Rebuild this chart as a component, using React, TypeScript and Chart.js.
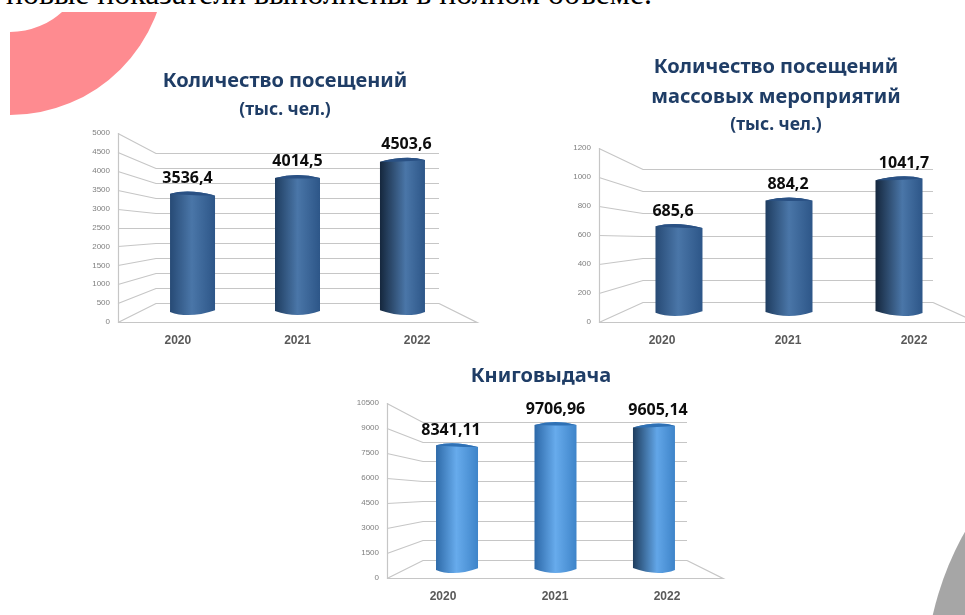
import React, { useEffect, useRef } from "react";
import { Chart, registerables, BarController, BarElement } from "chart.js";

Chart.register(...registerables);

// ---------- data ----------
const years = ["2020", "2021", "2022"];
const visits = [3536.4, 4014.5, 4503.6];
const massVisits = [685.6, 884.2, 1041.7];
const bookIssue = [8341.11, 9706.96, 9605.14];
const visitsLabels = ["3536,4", "4014,5", "4503,6"];
const massLabels = ["685,6", "884,2", "1041,7"];
const bookLabels = ["8341,11", "9706,96", "9605,14"];

const visitsTitle = ["Количество посещений"];
const massTitle = ["Количество посещений", "массовых мероприятий"];
const bookTitle = ["Книговыдача"];
const unitTitle = "(тыс. чел.)";
const noteLine = "новые показатели выполнены в полном объеме.";

// ---------- cylinder bar ----------
class CylinderElement extends BarElement {
  static id = "cylinder";
  draw(ctx: CanvasRenderingContext2D) {
    const self = this as any;
    const { x, y, base, width } = self.getProps(["x", "y", "base", "width"], true);
    const context = self.$context;
    const area = context.chart.chartArea;
    const tilt = (x - (area.left + area.right) / 2) / (area.right - area.left) * 3;
    const L = x - width / 2;
    const R = x + width / 2;
    const grad = ctx.createLinearGradient(L, 0, R, 0);
    const p = 0.5 + 0.08 * Math.max(tilt, -0.2);
    grad.addColorStop(0, self.options.borderColor);
    grad.addColorStop(p, self.options.backgroundColor);
    grad.addColorStop(1, context.dataset.rightEdge);
    ctx.save();
    ctx.beginPath();
    ctx.moveTo(L, y + 3 + tilt);
    ctx.quadraticCurveTo(x + 4 * tilt, y - 3, R, y + 3 - tilt);
    ctx.lineTo(R, base - 4 + tilt);
    ctx.quadraticCurveTo(x + 4 * tilt, base + 4, L, base - 4 - tilt);
    ctx.closePath();
    ctx.fillStyle = grad;
    ctx.fill();
    // darker rim of the top cap
    ctx.beginPath();
    ctx.moveTo(L, y + 3 + tilt);
    ctx.quadraticCurveTo(x + 4 * tilt, y - 3, R, y + 3 - tilt);
    ctx.quadraticCurveTo(x + 4 * tilt, y + 4, L, y + 3 + tilt);
    ctx.closePath();
    ctx.fillStyle = context.dataset.rimColor;
    ctx.fill();
    ctx.restore();
  }
}

class CylinderController extends BarController {
  static id = "cylinder";
  static defaults = { ...(BarController as any).defaults, dataElementType: "cylinder" };
}
Chart.register(CylinderController as any, CylinderElement as any);

// ---------- walls and value labels ----------
const wallPlugin = {
  id: "wall",
  beforeDatasetsDraw(chart: any, _args: any, opts: any) {
    const { ctx, chartArea: a, scales } = chart;
    const front = scales.y;
    const back = scales.yBack;
    const bl = a.left + opts.inset;
    const br = a.right - opts.inset;
    ctx.save();
    ctx.lineWidth = 1.2;
    ctx.strokeStyle = opts.color;
    front.ticks.forEach((t: any) => {
      const yf = Math.round(front.getPixelForValue(t.value)) + 0.5;
      const yb = Math.round(back.getPixelForValue(t.value)) + 0.5;
      ctx.beginPath();
      ctx.moveTo(a.left, yf);
      ctx.lineTo(bl, yb);
      ctx.lineTo(br, yb);
      ctx.stroke();
    });
    const y0 = Math.round(front.getPixelForValue(0)) + 0.5;
    const yb0 = Math.round(back.getPixelForValue(0)) + 0.5;
    ctx.beginPath();
    ctx.moveTo(a.left + 0.5, a.top);
    ctx.lineTo(a.left + 0.5, y0);
    ctx.lineTo(a.right, y0);
    ctx.lineTo(br, yb0);
    ctx.stroke();
    ctx.restore();
  },
  afterDatasetsDraw(chart: any, _args: any, opts: any) {
    const { ctx } = chart;
    const meta = chart.getDatasetMeta(0);
    ctx.save();
    ctx.font = opts.valueFont;
    ctx.fillStyle = "#0d0d0d";
    ctx.textAlign = "center";
    ctx.textBaseline = "middle";
    meta.data.forEach((el: any, i: number) => {
      ctx.fillText(opts.labels[i], el.x + opts.labelDx[i], el.y - opts.labelDy);
    });
    ctx.restore();
  },
};

// ---------- panel ----------
type PanelProps = {
  left: number; top: number; width: number; height: number;
  title: string[]; subtitle?: string;
  values: number[]; labels: string[]; labelDx: number[]; labelDy: number;
  titlePad: any; subPad?: any; titleLine: number; sidePad: number;
  axisWidth: number; max: number; step: number;
  yBack: [number, number]; yBar: [number, number]; xBar: [number, number];
  thickness: number; inset: number;
  high: string[]; leftEdge: string[]; rightEdge: string; rim: string;
};

function Panel(p: PanelProps) {
  const ref = useRef<HTMLCanvasElement>(null);
  useEffect(() => {
    const chart = new Chart(ref.current as HTMLCanvasElement, {
      type: "cylinder" as any,
      plugins: [wallPlugin],
      data: {
        labels: years,
        datasets: [{
          data: p.values.map((v, i) => ({ x: i, y: v })),
          xAxisID: "xBar",
          yAxisID: "yBar",
          barThickness: p.thickness,
          backgroundColor: p.high,
          borderColor: p.leftEdge,
          borderWidth: 0,
          rightEdge: p.rightEdge,
          rimColor: p.rim,
        } as any],
      },
      options: {
        responsive: false,
        animation: false,
        events: [],
        layout: { padding: { left: p.sidePad, right: p.sidePad } },
        plugins: {
          legend: { display: false },
          tooltip: { enabled: false },
          title: {
            display: true, text: p.title, color: "#1f3d66",
            font: { family: "'Noto Sans'", weight: "bold", size: 20, lineHeight: p.titleLine },
            padding: p.titlePad,
          },
          subtitle: {
            display: !!p.subtitle, text: p.subtitle || "", color: "#1f3d66",
            font: { family: "'Noto Sans'", weight: "bold", size: 17.5, lineHeight: 1.2 },
            padding: p.subPad || 0,
          },
          wall: {
            inset: p.inset, color: "#c6c6c6", labels: p.labels,
            labelDx: p.labelDx, labelDy: p.labelDy,
            valueFont: "bold 16px 'Noto Sans'",
          },
        } as any,
        scales: {
          x: {
            type: "category", offset: true,
            grid: { display: false, drawTicks: false }, border: { display: false },
            ticks: {
              color: "#595959", padding: 11, maxRotation: 0, autoSkip: false,
              font: { family: "'Liberation Sans'", weight: "bold", size: 12 },
            },
            afterFit: (s: any) => { s.height = 30; },
          },
          xBar: { type: "linear", display: false, offset: false, min: p.xBar[0], max: p.xBar[1] },
          y: {
            type: "linear", min: 0, max: p.max,
            grid: { display: false, drawTicks: false }, border: { display: false },
            ticks: {
              stepSize: p.step, color: "#7f7f7f", padding: 8,
              font: { family: "'Liberation Sans'", size: 8 },
              callback: (v: any) => String(v),
            },
            afterFit: (s: any) => {
              s.width = p.axisWidth;
              s._computeLabelArea = () => undefined; // long labels may overhang the narrow box
            },
          },
          yBack: { type: "linear", display: false, min: p.yBack[0], max: p.yBack[1] },
          yBar: { type: "linear", display: false, min: p.yBar[0], max: p.yBar[1] },
        },
      } as any,
    });
    return () => chart.destroy();
  }, []);
  return (
    <canvas
      ref={ref}
      width={p.width}
      height={p.height}
      style={{ position: "absolute", left: p.left, top: p.top, width: p.width, height: p.height, filter: "blur(0.45px)" }}
    />
  );
}

const darkHigh = ["#4a76a8", "#4a76a8", "#4a76a8"];
const darkLeft = ["#274a75", "#1f3d60", "#15273d"];
const lightHigh = ["#67abec", "#67abec", "#62a6e8"];
const lightLeft = ["#2e6aa8", "#2c68a8", "#1e3d5e"];

export default function App() {
  return (
    <div style={{ position: "fixed", left: 0, top: 0, width: 965, height: 615, overflow: "hidden", background: "#fff" }}>
      <svg width={965} height={615} style={{ position: "absolute", left: 0, top: 0 }}>
        <defs>
          <clipPath id="pinkClip"><rect x={10} y={12} width={300} height={200} /></clipPath>
        </defs>
        <path
          d="M10 115 A156.4 156.4 0 0 0 166.4 -41.4 L87.6 -45.6 A77.6 77.6 0 0 1 10 32 Z"
          fill="#fe8b90"
          clipPath="url(#pinkClip)"
        />
        <circle cx={1235} cy={684} r={310} fill="#a6a6a6" />
      </svg>
      <div style={{
        position: "absolute", left: 6, top: -24.5, whiteSpace: "nowrap",
        fontFamily: "'Liberation Serif'", fontSize: 31.8, lineHeight: "36px", color: "#000",
      }}>{noteLine}</div>
      <Panel
        left={85} top={61} width={400} height={291} sidePad={8}
        title={visitsTitle} subtitle={unitTitle} titleLine={24 / 20}
        titlePad={{ top: 8, bottom: 0 }} subPad={{ top: 6.5, bottom: 12.5 }}
        values={visits} labels={visitsLabels} labelDx={[-5, 0, 4]} labelDy={13}
        axisWidth={25} max={5000} step={500}
        yBack={[-633, 5667]} yBar={[-200, 5215]} xBar={[-0.71, 2.71]}
        thickness={45} inset={38}
        high={darkHigh} leftEdge={darkLeft} rightEdge="#2d5688" rim="#2a5184"
      />
      <Panel
        left={566} top={50} width={420} height={302} sidePad={9}
        title={massTitle} subtitle={unitTitle} titleLine={30 / 20}
        titlePad={{ top: 2, bottom: 0 }} subPad={{ top: 3, bottom: 12 }}
        values={massVisits} labels={massLabels} labelDx={[-6, -1, 5]} labelDy={13}
        axisWidth={24} max={1200} step={200}
        yBack={[-180.5, 1389.6]} yBar={[-44.8, 1253.7]} xBar={[-0.727, 2.709]}
        thickness={47} inset={44}
        high={darkHigh} leftEdge={darkLeft} rightEdge="#2d5688" rim="#2a5184"
      />
      <Panel
        left={351} top={360} width={380} height={248} sidePad={8}
        title={bookTitle} titleLine={24 / 20}
        titlePad={{ top: 4, bottom: 15 }}
        values={bookIssue} labels={bookLabels} labelDx={[-6, 0, 4]} labelDy={13}
        axisWidth={28} max={10500} step={1500}
        yBack={[-1370, 11946]} yBar={[-321, 10925]} xBar={[-0.711, 2.701]}
        thickness={42} inset={36}
        high={lightHigh} leftEdge={lightLeft} rightEdge="#3e84c9" rim="#2f71b5"
      />
    </div>
  );
}
